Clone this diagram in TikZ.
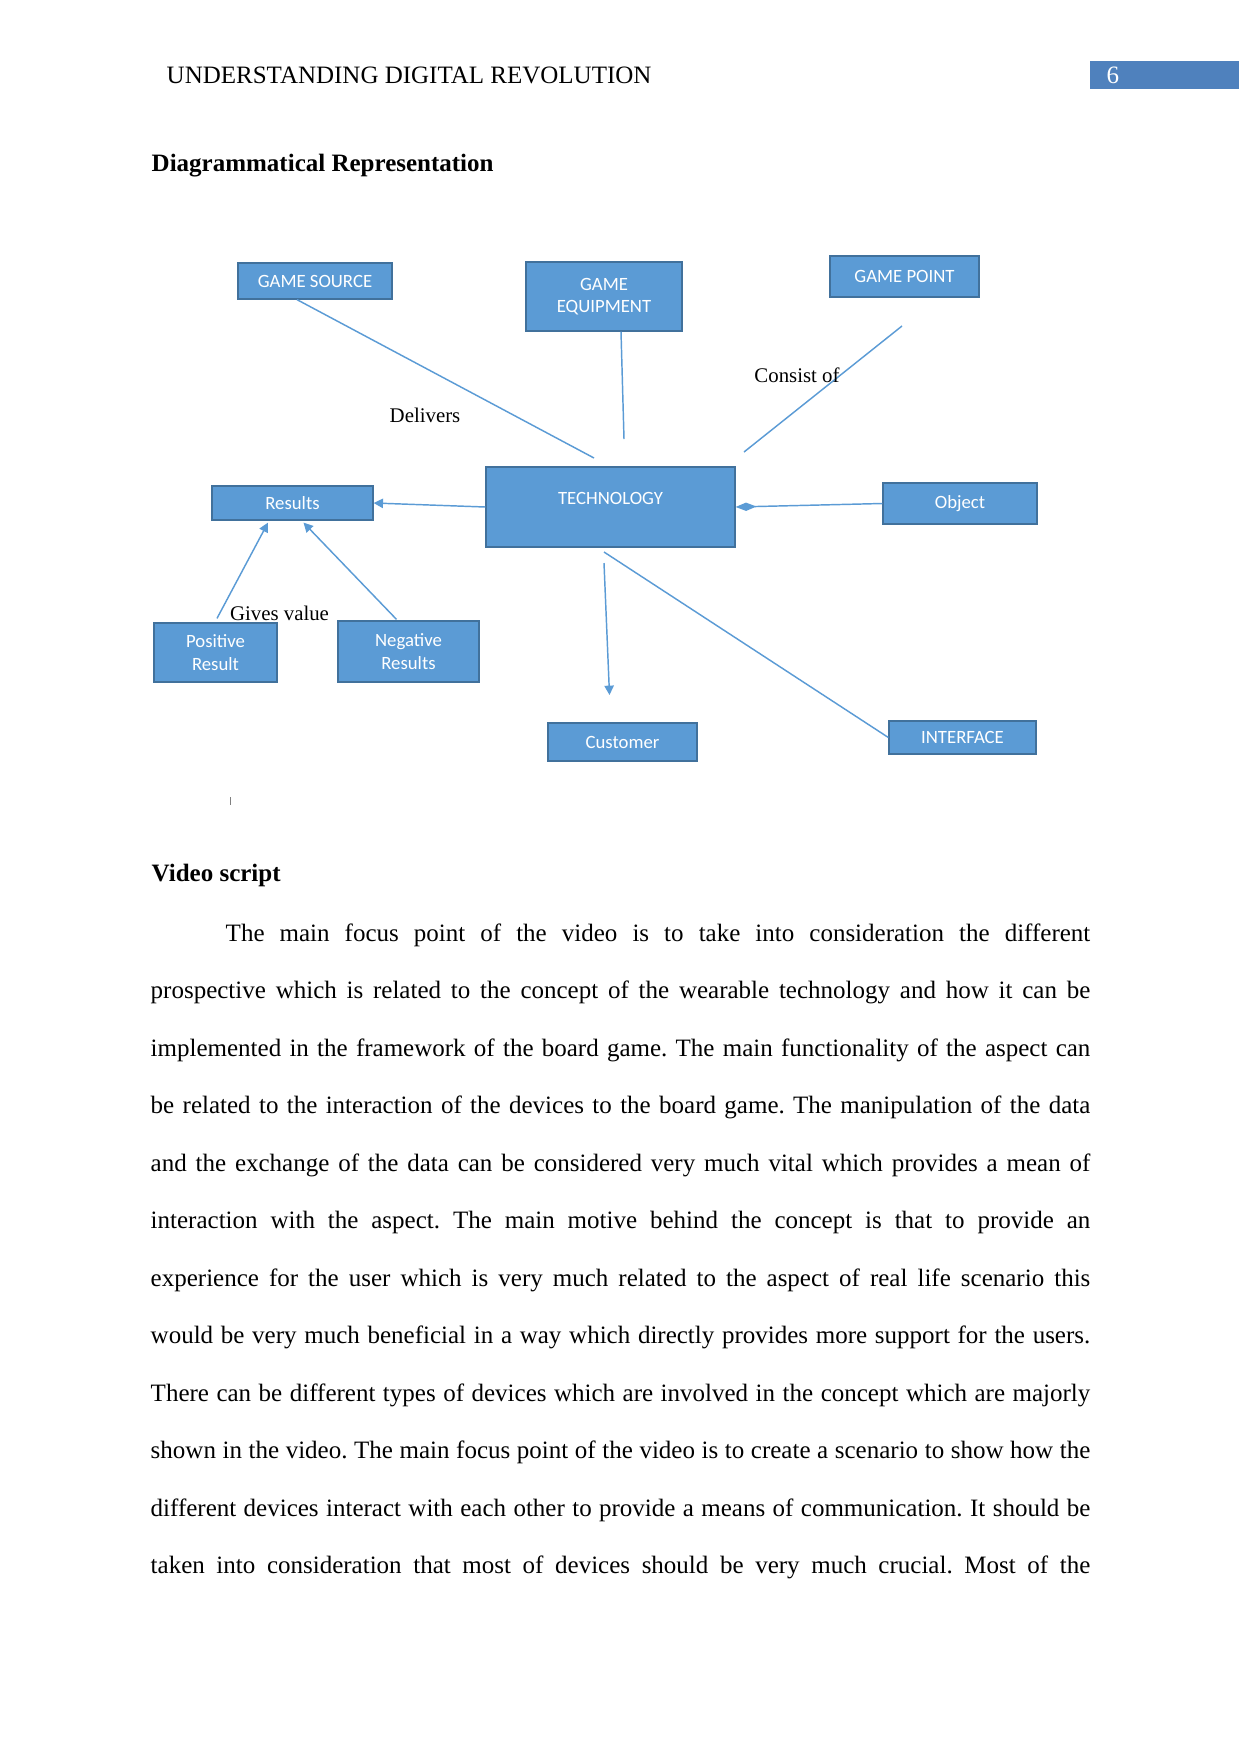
\documentclass[tikz,border=0pt]{standalone}
\usepackage{fontspec}
\setmainfont{Liberation Serif}
\newfontfamily\boxfont{Carlito}
\usetikzlibrary{arrows.meta,calc}
\definecolor{boxfill}{HTML}{5B9BD5}
\definecolor{boxline}{HTML}{41719C}
\definecolor{pagebar}{HTML}{4F81BD}
\newcommand{\px}{0.48pt}

\begin{document}
\begin{tikzpicture}[x=0.48pt,y=-0.48pt,line width=.7pt,font=\fontsize{12}{14}\selectfont,
  box/.style={draw=boxline,line width=.6pt,fill=boxfill,text=white,inner sep=0pt,align=center,
    font=\boxfont\fontsize{9}{10.8}\selectfont},
  link/.style={draw=boxfill,line width=.7pt},
  tip/.style={-{Triangle[length=4.5pt,width=4.5pt]}},
  lbl/.style={font=\fontsize{10}{12}\selectfont},
  head/.style={font=\fontsize{12}{14}\selectfont\bfseries,inner sep=0pt}]
\useasboundingbox (0,0) rectangle (1241,1754);
\fill[pagebar] (1090,61) rectangle (1239,89);
\node[anchor=west,inner sep=0pt] (header) at (166,75) {UNDERSTANDING DIGITAL REVOLUTION};
\node[anchor=base west,inner sep=0pt,text=white] (pagenum) at (1106,83) {6};
\node[head,anchor=base west] (title) at (151,171.5) {Diagrammatical Representation};

\node[box,minimum width=154*\px,minimum height=36*\px] (gsource) at (315,281) {GAME SOURCE};
\node[box,minimum width=156*\px,minimum height=69*\px] (gequip) at (604,296.5) {GAME\\EQUIPMENT};
\node[box,minimum width=149*\px,minimum height=41*\px] (gpoint) at (904.5,276.5) {GAME POINT};
\node[box,minimum width=249*\px,minimum height=80*\px,text depth=8pt] (tech) at (610.5,507) {TECHNOLOGY};
\node[box,minimum width=161*\px,minimum height=34*\px] (results) at (292.5,503) {Results};
\node[box,minimum width=154*\px,minimum height=41*\px] (object) at (960,503.5) {Object};
\node[box,minimum width=123*\px,minimum height=59*\px] (positive) at (215.5,652.5) {Positive\\Result};
\node[box,minimum width=141*\px,minimum height=61*\px] (negative) at (408.5,651.5) {Negative\\Results};
\node[box,minimum width=149*\px,minimum height=38*\px] (customer) at (622.5,742) {Customer};
\node[box,minimum width=147*\px,minimum height=33*\px] (interface) at (962.5,737.5) {INTERFACE};

\coordinate (d1) at (594,458);\coordinate (e1) at (624,439);
\coordinate (c0) at (902,326);\coordinate (c1) at (744,452);
\coordinate (u0) at (604,563);\coordinate (u1) at (609.5,695);
\coordinate (i0) at (604,552);
\draw[link] ($(gsource.south)+(-18,0)$) -- (d1);
\draw[link] ($(gequip.south)+(17,0)$) -- (e1);
\draw[link] (c0) -- (c1);
\draw[link,tip] (tech.west) -- (results.east);
\draw[link,-{Diamond[length=10pt,width=4pt]}] (object.west) -- (tech.east);
\draw[link,tip] ($(positive.north)+(1.5,-4)$) -- ($(results.south)+(-24.5,2)$);
\draw[link,tip] ($(negative.north)+(-12,-1)$) -- ($(results.south)+(11,2)$);
\draw[link,tip] (u0) -- (u1);
\draw[link] (i0) -- (interface.west);

\node[lbl] (deliv) at (425,415) {Delivers};
\node[lbl] (consist) at (797,375) {Consist of};
\node[lbl] (gives) at (279.5,613) {Gives value};
\draw[gray,line width=.4pt] (230.5,797) -- (230.5,805);

\node[head,anchor=base west] (vscript) at (151,881.5) {Video script};
\node[anchor=north west,inner sep=0pt,text width=451pt,align=justify,font=\fontsize{12}{27.6}\selectfont] (para) at (150,923)
{\frenchspacing\hyphenpenalty=10000\tolerance=9999\parfillskip=0pt
\hspace*{36pt}The main focus point of the video is to take into consideration the different\linebreak
prospective which is related to the concept of the wearable technology and how it can be\linebreak
implemented in the framework of the board game. The main functionality of the aspect can\linebreak
be related to the interaction of the devices to the board game. The manipulation of the data\linebreak
and the exchange of the data can be considered very much vital which provides a mean of\linebreak
interaction with the aspect. The main motive behind the concept is that to provide an\linebreak
experience for the user which is very much related to the aspect of real life scenario this\linebreak
would be very much beneficial in a way which directly provides more support for the users.\linebreak
There can be different types of devices which are involved in the concept which are majorly\linebreak
shown in the video. The main focus point of the video is to create a scenario to show how the\linebreak
different devices interact with each other to provide a means of communication. It should be\linebreak
taken into consideration that most of devices should be very much crucial. Most of the\par};
\end{tikzpicture}
\end{document}
